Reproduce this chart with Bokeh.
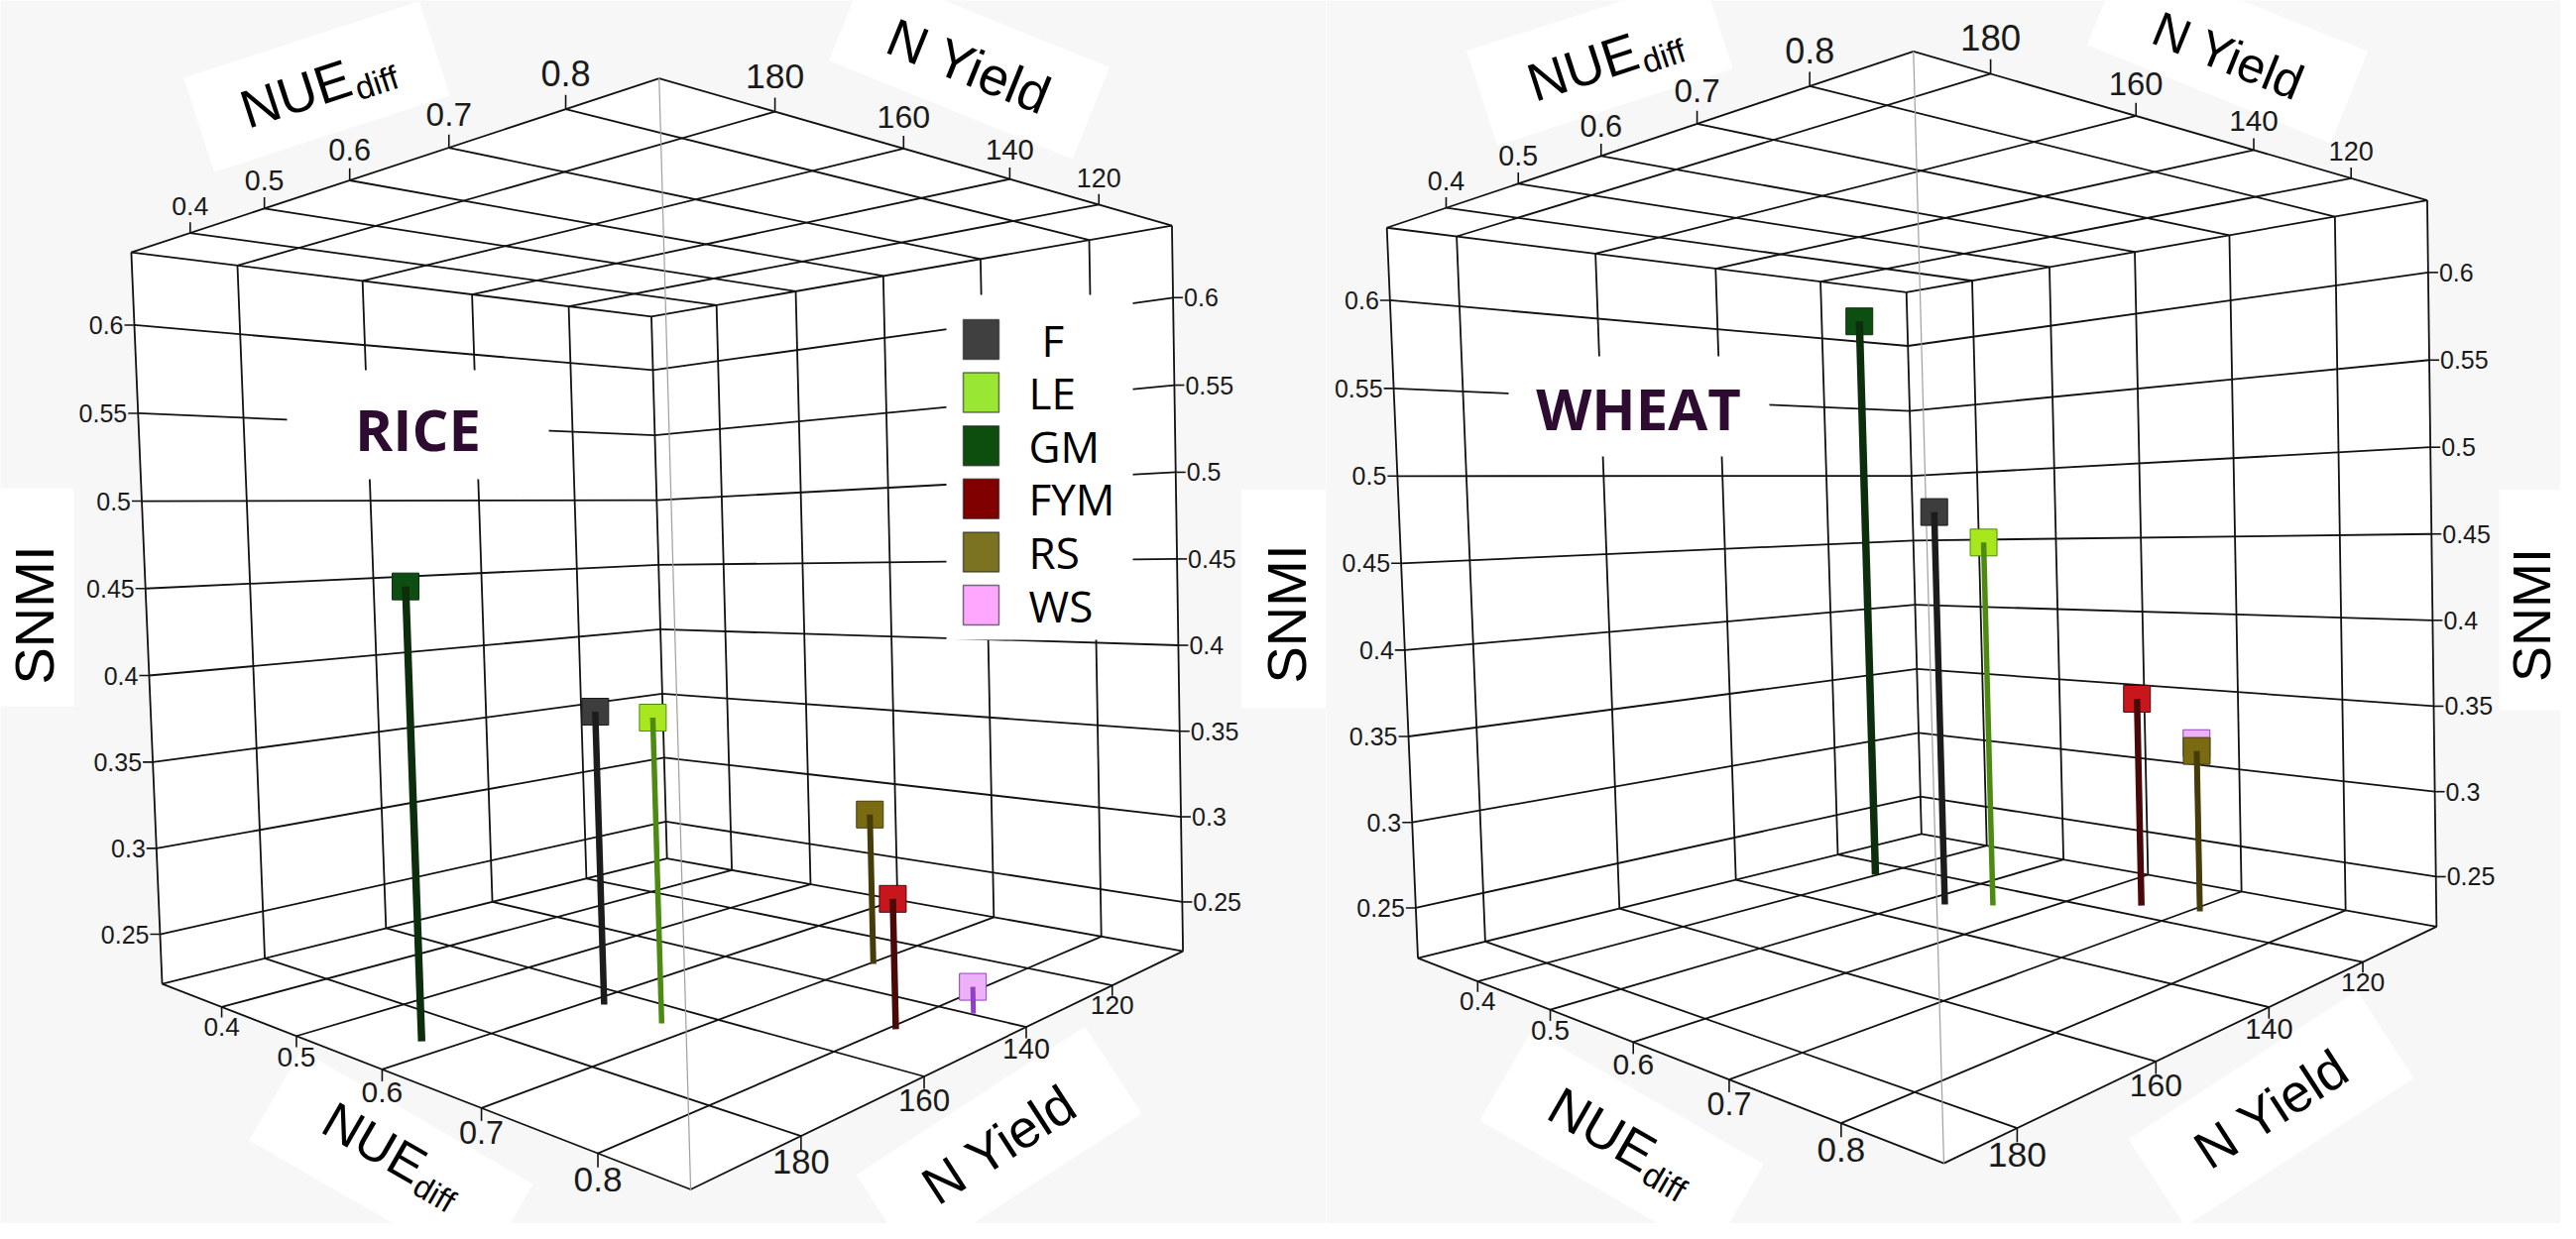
import numpy as np
from bokeh.plotting import figure
from bokeh.models import Range1d, ColumnDataSource
from bokeh.layouts import row
from bokeh.embed import file_html
from bokeh.resources import INLINE
from bokeh.core.properties import value, field

# ---------------- data ----------------
treatments = ["F", "LE", "GM", "FYM", "RS", "WS"]
marker_colors = ["#3d3d3d", "#a8e61d", "#0d4f12", "#c8161c", "#7a6b12", "#eeb0f6"]
stem_colors = ["#1c1c1c", "#4d8a12", "#0c2e0c", "#4a0808", "#453c0a", "#9040c8"]
stem_widths = [6.5, 5.5, 7.5, 6.5, 6.0, 5.0]
legend_colors = ["#404040", "#99e633", "#0d4d0d", "#800000", "#7b7322", "#ffa6ff"]

rice_nue = [0.614, 0.675, 0.576, 0.805, 0.703, 0.827]
rice_nyield = [164.5, 165.1, 186.8, 149.8, 130.6, 139.7]
rice_snmi = [0.379, 0.379, 0.450, 0.287, 0.308, 0.235]

wheat_nue = [0.524, 0.559, 0.398, 0.659, 0.708, 0.704]
wheat_nyield = [131.2, 127.6, 125.4, 115.6, 113.3, 112.4]
wheat_snmi = [0.471, 0.451, 0.603, 0.351, 0.320, 0.324]

nue_ticks = [0.4, 0.5, 0.6, 0.7, 0.8]
nue_tick_labels = ["0.4", "0.5", "0.6", "0.7", "0.8"]
ny_ticks = [120, 140, 160, 180]
ny_tick_labels = ["120", "140", "160", "180"]
snmi_ticks = [0.25, 0.3, 0.35, 0.4, 0.45, 0.5, 0.55, 0.6]
snmi_tick_labels = ["0.25", "0.3", "0.35", "0.4", "0.45", "0.5", "0.55", "0.6"]

rice_nue_lim = (0.31, 0.869)
rice_ny_lim = (100.8, 195.0)
rice_snmi_lim = (0.221, 0.641)
wheat_nue_lim = (0.307, 0.879)
wheat_ny_lim = (101.5, 189.0)
wheat_snmi_lim = (0.2205, 0.641)

# ---------------- camera calibration (where the 3D box sits on the page) ----------------
RICE_CAL = dict(
    corners=[(140, 262), (171, 1000), (672, 86), (704, 1206), (1189, 235), (1201, 967), (665, 327), (679, 874)],
    top_nue=[(198, 242), (274, 218), (360, 190), (460, 157), (578, 117)],
    top_ny=[(1117, 215), (1026, 189), (919, 158), (789, 120)],
    bot_nue=[(232, 1024), (308, 1053), (393, 1086), (492, 1126), (610, 1171)],
    bot_ny=[(1130, 1003), (1041, 1043), (939, 1094), (816, 1155)],
    left_z=[(169, 951), (165, 863), (162, 776), (158, 688), (154, 601), (151, 513), (147, 425), (143, 335)],
    right_z=[(1200, 917), (1199, 831), (1197, 744), (1196, 657), (1195, 572), (1193, 485), (1192, 396), (1190, 307)],
)
WHEAT_CAL = dict(
    corners=[(1408, 237), (1437, 975), (1939, 61), (1969, 1180), (2456, 211), (2465, 942), (1931, 303), (1944, 849)],
    top_nue=[(1463, 216), (1536, 193), (1620, 166), (1718, 133), (1832, 95)],
    top_ny=[(2377, 189), (2281, 159), (2162, 124), (2015, 81)],
    bot_nue=[(1498, 999), (1571, 1026), (1655, 1058), (1750, 1097), (1866, 1141)],
    bot_ny=[(2390, 977), (2295, 1024), (2183, 1079), (2042, 1145)],
    left_z=[(1435, 923), (1432, 837), (1428, 751), (1425, 664), (1421, 576), (1418, 487), (1414, 399), (1411, 309)],
    right_z=[(2464, 893), (2463, 807), (2462, 720), (2461, 632), (2460, 546), (2459, 458), (2458, 369), (2457, 282)],
)

BG = "#f7f7f7"
GRID = "#111111"
TICK_FONT = "Liberation Sans"
TITLE_FONT = "Liberation Sans"
LEG_FONT = "Open Sans"


class Camera:
    """Pinhole projection of the data cube fitted to the box corners and tick positions."""

    def __init__(self, cal, lims):
        self.lims = lims
        P3, P2 = self.calib_points(cal)
        X, Y, Z = self.nrm(P3[:, 0], P3[:, 1], P3[:, 2])
        m = P2.mean(0)
        s = np.sqrt(2) / np.mean(np.linalg.norm(P2 - m, axis=1))
        T = np.array([[s, 0, -s * m[0]], [0, s, -s * m[1]], [0, 0, 1.0]])
        q = (P2 - m) * s
        A = []
        for Xi, Yi, Zi, (u, v) in zip(X, Y, Z, q):
            A.append([Xi, Yi, Zi, 1, 0, 0, 0, 0, -u * Xi, -u * Yi, -u * Zi, -u])
            A.append([0, 0, 0, 0, Xi, Yi, Zi, 1, -v * Xi, -v * Yi, -v * Zi, -v])
        _, _, Vt = np.linalg.svd(np.array(A))
        P = np.linalg.inv(T) @ Vt[-1].reshape(3, 4)
        if (P @ np.array([0.5, 0.5, 0.5, 1.0]))[2] < 0:
            P = -P
        self.P = P

    def nrm(self, x, y, z):
        (a0, a1), (b0, b1), (c0, c1) = self.lims
        return ((np.asarray(x, float) - a0) / (a1 - a0),
                (np.asarray(y, float) - b0) / (b1 - b0),
                (np.asarray(z, float) - c0) / (c1 - c0))

    def calib_points(self, cal):
        (x0, x1), (y0, y1), (z0, z1) = self.lims
        P3 = [(x0, y1, z1), (x0, y1, z0), (x1, y1, z1), (x1, y1, z0),
              (x1, y0, z1), (x1, y0, z0), (x0, y0, z1), (x0, y0, z0)]
        P2 = list(cal["corners"])
        for t, q in zip(nue_ticks, cal["top_nue"]):
            P3.append((t, y1, z1)); P2.append(q)
        for t, q in zip(ny_ticks, cal["top_ny"]):
            P3.append((x1, t, z1)); P2.append(q)
        for t, q in zip(nue_ticks, cal["bot_nue"]):
            P3.append((t, y1, z0)); P2.append(q)
        for t, q in zip(ny_ticks, cal["bot_ny"]):
            P3.append((x1, t, z0)); P2.append(q)
        for t, q in zip(snmi_ticks, cal["left_z"]):
            P3.append((x0, y1, t)); P2.append(q)
        for t, q in zip(snmi_ticks, cal["right_z"]):
            P3.append((x1, y0, t)); P2.append(q)
        return np.array(P3, float), np.array(P2, float)

    def project(self, x, y, z):
        X, Y, Z = self.nrm(x, y, z)
        X, Y, Z = np.broadcast_arrays(np.atleast_1d(X), np.atleast_1d(Y), np.atleast_1d(Z))
        H = self.P @ np.vstack([X.ravel(), Y.ravel(), Z.ravel(), np.ones(X.size)])
        return H[0] / H[2], H[1] / H[2], H[2]


def seg_xy(cam, segs):
    a = np.array([s[0] for s in segs], float)
    b = np.array([s[1] for s in segs], float)
    ua, va, _ = cam.project(a[:, 0], a[:, 1], a[:, 2])
    ub, vb, _ = cam.project(b[:, 0], b[:, 1], b[:, 2])
    return [[ua[i], ub[i]] for i in range(len(segs))], [[va[i], vb[i]] for i in range(len(segs))]


def rot_box(cx, cy, w, h, deg):
    t = np.radians(deg)
    d = np.array([np.cos(t), -np.sin(t)])
    n = np.array([np.sin(t), np.cos(t)])
    c = np.array([cx, cy], float)
    pts = [c - d * w / 2 - n * h / 2, c + d * w / 2 - n * h / 2, c + d * w / 2 + n * h / 2, c - d * w / 2 + n * h / 2]
    return [q[0] for q in pts], [q[1] for q in pts]


def draw_title(p, kind, cx, cy, deg, fs):
    t = np.radians(deg)
    d = np.array([np.cos(t), -np.sin(t)])
    n = np.array([np.sin(t), np.cos(t)])
    c = np.array([cx, cy], float)
    common = dict(angle=t, text_align="center", text_baseline="middle",
                  text_font=value(TITLE_FONT), text_color="#000000")
    if kind == "NUE":
        wm = 2.111 * fs
        ws = 1.334 * 0.62 * fs
        L = wm + ws
        cm = c + d * (-L / 2 + wm / 2)
        cs = c + d * (-L / 2 + wm + ws / 2 + 0.03 * fs) + n * (0.28 * fs)
        p.text([cm[0]], [cm[1]], ["NUE"], text_font_size=f"{fs}px", **common)
        p.text([cs[0]], [cs[1]], ["diff"], text_font_size=f"{0.62 * fs:.1f}px", **common)
    else:
        p.text([cx], [cy], [kind], text_font_size=f"{fs}px", **common)


def build_panel(xa, xb, cal, lims, nue, ny, snmi, title, title_xy, title_box, titles, boxes,
                legend=False, legend_box=None):
    p = figure(width=xb - xa, height=1234, x_range=Range1d(xa, xb), y_range=Range1d(1242, 8),
               output_backend="svg", toolbar_location=None, x_axis_type=None, y_axis_type=None,
               min_border=0)
    p.background_fill_color = BG
    p.border_fill_color = BG
    p.outline_line_color = None

    cam = Camera(cal, lims)
    (x0, x1), (y0, y1), (z0, z1) = lims

    # white silhouette of the box
    hx, hy, _ = cam.project([x0, x1, x1, x1, x1, x0], [y1, y1, y0, y0, y1, y1], [z1, z1, z1, z0, z0, z0])
    p.patch(list(hx), list(hy), fill_color="white", line_color=None)

    # white boxes behind axis titles
    for (bx, by, bw, bh, bdeg) in boxes:
        px_, py_ = rot_box(bx, by, bw, bh, bdeg)
        p.patch(px_, py_, fill_color="white", line_color=None)

    # grid lines on top, floor, far-left wall (NUE min), far-right wall (N Yield min)
    segs = []
    for z in (z0, z1):
        for xv in nue_ticks:
            segs.append(((xv, y0, z), (xv, y1, z)))
        for yv in ny_ticks:
            segs.append(((x0, yv, z), (x1, yv, z)))
    for yv in ny_ticks:
        segs.append(((x0, yv, z0), (x0, yv, z1)))
    for xv in nue_ticks:
        segs.append(((xv, y0, z0), (xv, y0, z1)))
    for zv in snmi_ticks:
        segs.append(((x0, y0, zv), (x0, y1, zv)))
        segs.append(((x0, y0, zv), (x1, y0, zv)))
    for z in (z0, z1):
        segs += [((x0, y1, z), (x1, y1, z)), ((x1, y1, z), (x1, y0, z)),
                 ((x1, y0, z), (x0, y0, z)), ((x0, y0, z), (x0, y1, z))]
    segs += [((x0, y1, z0), (x0, y1, z1)), ((x1, y0, z0), (x1, y0, z1)), ((x0, y0, z0), (x0, y0, z1))]
    gx, gy = seg_xy(cam, segs)
    p.multi_line(gx, gy, line_color=GRID, line_width=1.8)
    nx_, ny_ = seg_xy(cam, [((x1, y1, z0), (x1, y1, z1))])
    p.multi_line(nx_, ny_, line_color="#a0a0a0", line_width=1.2)

    # white boxes that hide the grid behind the title and legend
    for (l, t_, r, b) in [title_box] + ([legend_box] if legend_box else []):
        p.patch([l, r, r, l], [t_, t_, b, b], fill_color="white", line_color=None)

    # ticks and tick labels (sized by perspective depth)
    _, _, wref = cam.project(x0, y1, (z0 + z1) / 2)
    wref = wref[0]
    tick_xs, tick_ys = [], []
    lab = dict(x=[], y=[], t=[], fs=[], al=[])

    def add_label(x, y, t, fs, al):
        lab["x"].append(x); lab["y"].append(y); lab["t"].append(t)
        lab["fs"].append(f"{fs:.1f}px"); lab["al"].append(al)

    for z, sign, off in ((z1, -1, 25), (z0, 1, 19)):
        u, v, w = cam.project(nue_ticks, y1, z)
        for i in range(len(nue_ticks)):
            s = wref / w[i]
            tick_xs.append([u[i], u[i]]); tick_ys.append([v[i], v[i] + sign * 10 * s])
            add_label(u[i], v[i] + sign * off * s, nue_tick_labels[i], 25 * s, "center")
        u, v, w = cam.project(x1, ny_ticks, z)
        for i in range(len(ny_ticks)):
            s = wref / w[i]
            tick_xs.append([u[i], u[i]]); tick_ys.append([v[i], v[i] + sign * 10 * s])
            add_label(u[i], v[i] + sign * off * s, ny_tick_labels[i], 25 * s, "center")
    u, v, w = cam.project(x0, y1, snmi_ticks)
    for i in range(len(snmi_ticks)):
        tick_xs.append([u[i], u[i] - 10]); tick_ys.append([v[i], v[i]])
        add_label(u[i] - 11, v[i], snmi_tick_labels[i], 25, "right")
    u, v, w = cam.project(x1, y0, snmi_ticks)
    for i in range(len(snmi_ticks)):
        tick_xs.append([u[i], u[i] + 10]); tick_ys.append([v[i], v[i]])
        add_label(u[i] + 11, v[i], snmi_tick_labels[i], 25, "left")
    p.multi_line(tick_xs, tick_ys, line_color=GRID, line_width=1.6)
    src = ColumnDataSource(lab)
    p.text(x="x", y="y", text="t", source=src, text_font_size=field("fs"), text_align=field("al"),
           text_baseline="middle", text_font=value(TICK_FONT), text_color="#1a1a1a")

    # data: square markers with stems down to the floor, drawn from far to near
    su, sv, sw = cam.project(nue, ny, snmi)
    bu, bv, _ = cam.project(nue, ny, [z0] * len(nue))
    for i in np.argsort(-sw):
        p.scatter([su[i]], [sv[i]], marker="square", size=27, fill_color=marker_colors[i],
                  line_color=stem_colors[i], line_width=1)
        p.line([bu[i], su[i]], [bv[i], sv[i]], line_color=stem_colors[i], line_width=stem_widths[i])

    # titles
    p.text([title_xy[0]], [title_xy[1]], [title], text_font=value(LEG_FONT), text_font_style="bold",
           text_font_size="58px", text_color="#2e0b30", text_align="center", text_baseline="middle")
    for (kind, cx, cy, deg, fs) in titles:
        draw_title(p, kind, cx, cy, deg, fs)

    if legend:
        ly = [350 + 53.6 * i for i in range(len(treatments))]
        p.rect([997] * len(treatments), ly, width=36, height=40, fill_color=legend_colors,
               line_color="#202020", line_alpha=0.6, line_width=1.5)
        lx = [1058 if t == "F" else 1045 for t in treatments]
        p.text(lx, ly, treatments, text_font=value(LEG_FONT), text_font_size="44px",
               text_baseline="middle", text_align="left", text_color="#000000")
    return p


rice_titles = [("NUE", 327, 95, 18, 54), ("N Yield", 985, 74, -22, 54),
               ("NUE", 404, 1171, -30, 52), ("N Yield", 1015, 1162, 33, 54),
               ("SNMI", 42, 628, 90, 56), ("SNMI", 1305, 627, 90, 56)]
rice_boxes = [(327, 95, 250, 100, 18), (985, 72, 265, 100, -22), (402, 1180, 270, 105, -30),
              (1015, 1162, 275, 105, 33), (41, 610, 220, 82, 90), (1306, 612, 220, 93, 90)]
wheat_titles = [("NUE", 1625, 68, 18, 54), ("N Yield", 2255, 64, -22, 50),
                ("NUE", 1643, 1158, -30, 54), ("N Yield", 2298, 1126, 33, 54),
                ("SNMI", 2560, 628, 90, 54)]
wheat_boxes = [(1621, 68, 250, 100, 18), (2254, 56, 265, 100, -22), (1643, 1160, 270, 105, -30),
               (2298, 1126, 275, 105, 33), (2560, 613, 222, 64, 90)]

p1 = build_panel(8, 1345, RICE_CAL, (rice_nue_lim, rice_ny_lim, rice_snmi_lim),
                 rice_nue, rice_nyield, rice_snmi, "RICE", (429, 440),
                 (297, 381, 561, 491), rice_titles, rice_boxes, legend=True,
                 legend_box=(962, 305, 1150, 653))
p2 = build_panel(1345, 2590, WHEAT_CAL, (wheat_nue_lim, wheat_ny_lim, wheat_snmi_lim),
                 wheat_nue, wheat_nyield, wheat_snmi, "WHEAT", (1660, 419),
                 (1529, 367, 1792, 468), wheat_titles, wheat_boxes)

layout = row(p1, p2)
open("out.html", "w").write(file_html(layout, INLINE))
